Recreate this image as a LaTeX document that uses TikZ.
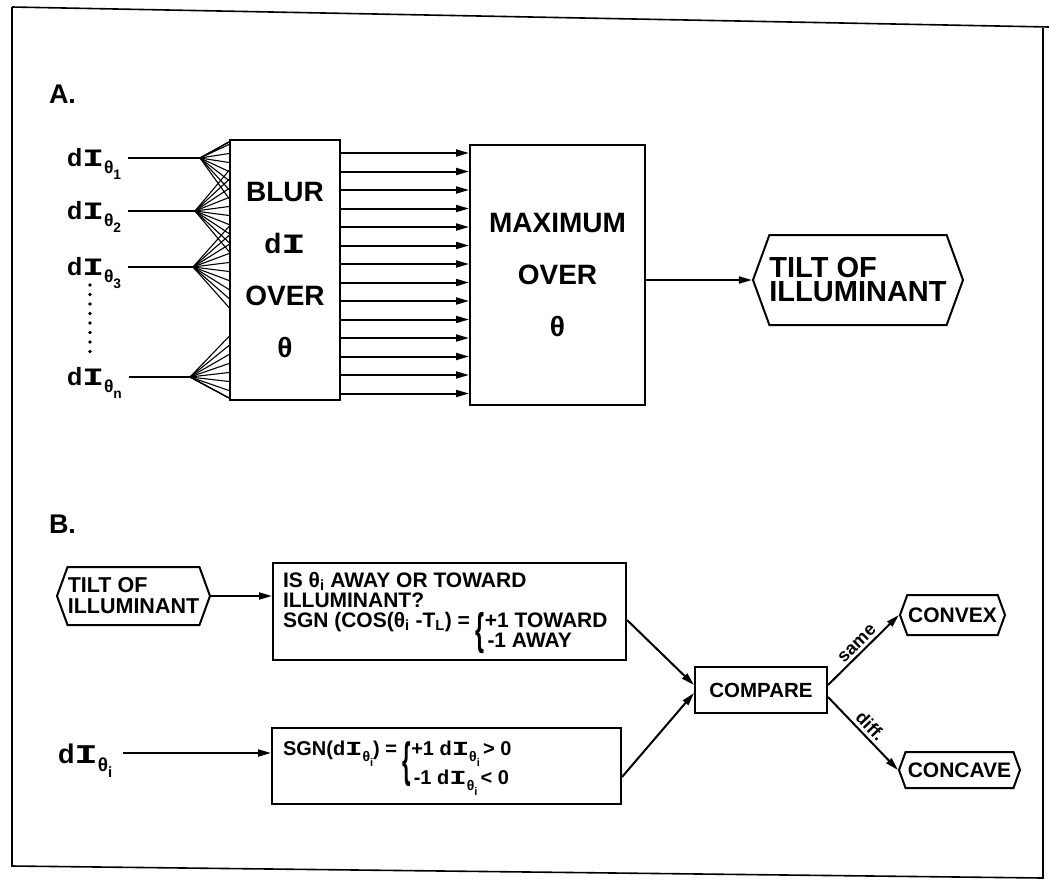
\documentclass[tikz,border=0pt]{standalone}
\usepackage{fontspec}
\setmainfont{Liberation Sans}
\newfontfamily\monof{Liberation Mono}
\usetikzlibrary{arrows.meta,shapes.symbols,calc}
\newcommand{\myI}{{\monof\bfseries\scalebox{1.45}[1]{I}}}
\newcommand{\dIs}[1]{d\myI\raisebox{-0.3em}{\scalebox{0.7}{θ}\raisebox{-0.25em}{\scalebox{0.55}{#1}}}}
\begin{document}
\begin{tikzpicture}[x=1pt,y=-1pt,line width=2pt,
  box/.style={draw,inner sep=0pt,align=center},
  hexa/.style={draw,shape=signal,signal to=west and east,signal pointer angle=140,inner sep=0pt,align=left},
  arr/.style={-{Triangle[length=13pt,width=7pt]}},
  bigf/.style={font=\bfseries\fontsize{28}{52}\selectfont},
  midf/.style={font=\bfseries\fontsize{21}{20}\selectfont},
  inf/.style={font=\bfseries\fontsize{25}{25}\selectfont},
  lblf/.style={font=\bfseries\fontsize{27}{27}\selectfont},
  smallf/.style={font=\bfseries\fontsize{18}{18}\selectfont},
  ]
\useasboundingbox (0,0) rectangle (1049,884);
\fill[white] (0,0) rectangle (1049,884);
% frame
\draw[line width=1.6pt] (12,7) -- (1049,27);
\draw[line width=1.6pt] (12,7) -- (12,866) -- (1043,878) -- (1043,28);
% labels
\node[lblf,anchor=base west,inner sep=0] (la) at (48,103) {A.};
\node[lblf,anchor=base west,inner sep=0] (lb) at (48,533) {B.};
% part A boxes
\node[box,bigf,minimum width=110pt,minimum height=260pt] (blur) at (285,270) {BLUR\\d\myI\\OVER\\θ};
\node[box,bigf,minimum width=175pt,minimum height=260pt] (max) at (557.5,275) {MAXIMUM\\OVER\\θ};
\node[hexa,font=\bfseries\fontsize{29}{24}\selectfont,minimum width=210pt,minimum height=90pt] (tiltA) at (858,280) {TILT OF\\ILLUMINANT};
% inputs
\foreach \n/\y/\ax/\s in {1/158/200/1,2/211/195/2,3/267/193/3,n/377/190/n}{
  \node[inf,anchor=base west,inner sep=0] (in\n) at (66,{\y+8}) {\dIs{\s}};
  \coordinate (ap\n) at (\ax,\y);
  \draw ($(in\n.east |- ap\n)+(6,0)$) -- (ap\n);
  \foreach \k in {-4.5,-3.5,...,4.5}{
    \pgfmathsetmacro\yy{min(max(\y+9*\k,142),398)}
    \draw[line width=1.1pt] (ap\n) -- (blur.west |- 0,\yy);
  }
}
\foreach \k in {0,...,7}{
  \fill (90,{285+9.5*\k}) circle (1.8pt);
}
% arrows between boxes
\foreach \k in {0,...,13}{
  \pgfmathsetmacro\yy{153+18.5*\k}
  \draw[arr] (blur.east |- 0,\yy) -- (max.west |- 0,\yy);
}
\draw[arr] (max.east |- tiltA.west) -- (tiltA.west);
% part B
\node[hexa,font=\bfseries\fontsize{21.5}{21}\selectfont,minimum width=153pt,minimum height=58pt] (tiltB) at (133.5,596) {TILT OF\\ILLUMINANT};
\node[box,minimum width=353pt,minimum height=97pt] (b1) at (449.5,611.5) {};
\node[midf,anchor=north west,align=left,inner sep=0] (b1t) at (282,571)
 {IS θ\textsubscript{i} AWAY OR TOWARD\\
  ILLUMINANT?\\
  SGN (COS(θ\textsubscript{i} -T\textsubscript{L}) = \smash{\raisebox{-17pt}{\scalebox{1.1}[2.1]{\{}}}+1 TOWARD\\
  \hphantom{SGN (COS(θ\textsubscript{i} -T\textsubscript{L}) = \{\,}-1 AWAY};
\node[box,minimum width=349pt,minimum height=76pt] (b2) at (446.5,766) {};
\node[font=\bfseries\fontsize{20}{29}\selectfont,anchor=north west,align=left,inner sep=0] (b2t) at (282,740)
 {SGN(\dIs{i}) = \smash{\raisebox{-21pt}{\scalebox{1.1}[2.4]{\{}}}+1 \dIs{i}\,> 0\\
  \hphantom{SGN(\dIs{i}) = \{\,}-1 \dIs{i}\,< 0};
\node[inf,font=\bfseries\fontsize{27}{27}\selectfont,anchor=base west,inner sep=0] (ini) at (57,763) {\dIs{i}};
\node[box,font=\bfseries\fontsize{20.5}{20}\selectfont,minimum width=132pt,minimum height=46pt] (cmp) at (761,690) {COMPARE};
\node[hexa,font=\bfseries\fontsize{21}{20}\selectfont,minimum width=105pt,minimum height=40pt] (cvx) at (952.5,615) {CONVEX};
\node[hexa,font=\bfseries\fontsize{21}{20}\selectfont,minimum width=121pt,minimum height=36pt] (ccv) at (959.5,770) {CONCAVE};
% B connectors
\draw[arr] (tiltB.east) -- (b1.west |- tiltB.east);
\draw[arr] ($(ini.east |- b2.west)+(10,-13)$) -- ($(b2.west)+(0,-13)$);
\draw[arr] ($(b1.east)+(0,8.5)$) -- ($(cmp.west)+(0,-5)$);
\draw[arr] ($(b2.east)+(0,11)$) -- ($(cmp.west)+(0,3)$);
\draw[arr] ($(cmp.east)+(0,-5)$) -- (cvx.west) node[midway,above,sloped,smallf,inner sep=3pt] (same) {same};
\draw[arr] ($(cmp.east)+(0,7)$) -- (ccv.west) node[midway,above,sloped,smallf,inner sep=3pt] (diff) {diff.};
\end{tikzpicture}
\end{document}
